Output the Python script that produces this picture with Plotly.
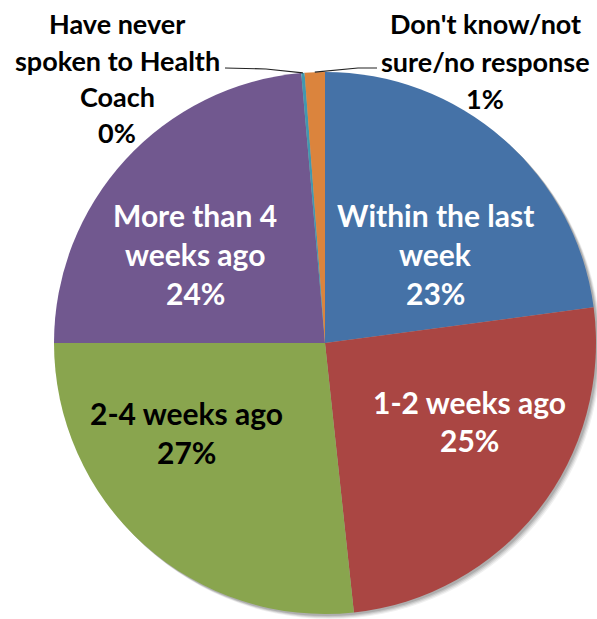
import math
import plotly.graph_objects as go

# Survey: when respondents last spoke to their Health Coach
categories = [
    "Within the last\nweek",
    "1-2 weeks ago",
    "2-4 weeks ago",
    "More than 4\nweeks ago",
    "Have never\nspoken to Health\nCoach",
    "Don't know/not\nsure/no response",
]
shares = [22.9, 25.4, 26.7, 23.6, 0.2, 1.2]
colors = ["#4572A7", "#AA4643", "#89A54E", "#71588F", "#4198AF", "#DB843D"]
text_colors = ["white", "white", "black", "white", "black", "black"]

W, H = 597, 619
CX, CY, R = 325, 343, 271  # pie centre and radius in pixels

def px(x):
    return x / W

def py(y):
    return 1 - y / H

fig = go.Figure()

fig.add_trace(go.Pie(
    labels=[c.replace("\n", " ") for c in categories],
    values=shares,
    marker=dict(colors=colors, line=dict(width=0)),
    sort=False,
    direction="clockwise",
    rotation=0,
    textinfo="none",
    showlegend=False,
    domain=dict(x=[px(CX - R), px(CX + R)], y=[py(CY + R), py(CY - R)]),
))

# soft drop shadow behind the pie
for off, a in [(5, 0.06), (4, 0.08), (3, 0.10), (2, 0.12)]:
    fig.add_shape(type="circle", xref="paper", yref="paper", layer="below",
                  x0=px(CX - R + off), x1=px(CX + R + off),
                  y0=py(CY + R + off), y1=py(CY - R + off),
                  fillcolor=f"rgba(0,0,0,{a})", line=dict(width=0))

total = sum(shares)
pcts = [round(v / total * 100) for v in shares]

# label layout: (centre x, first line y, line spacing, font size)
label_pos = [
    (435, 215, 39, 30),
    (469, 402, 38, 30),
    (186, 413, 39, 30),
    (195, 215, 39, 30),
    (117, 24, 36, 27),
    (485, 24, 37, 27),
]

for cat, pct, col, (cx, y0, dy, fs) in zip(categories, pcts, text_colors, label_pos):
    lines = cat.split("\n") + [f"{pct}%"]
    for i, line in enumerate(lines):
        fig.add_annotation(
            x=px(cx), y=py(y0 + i * dy), xref="paper", yref="paper",
            text=f"<b>{line}</b>", showarrow=False,
            xanchor="center", yanchor="middle",
            font=dict(family="Lato", size=fs, color=col),
        )

# leader lines from the two small slices to their labels
cum = 0
mids = []
for v in shares:
    mids.append((cum + v / 2) / total * 2 * math.pi)
    cum += v

def edge(theta):
    return CX + R * math.sin(theta), CY - R * math.cos(theta)

leaders = [
    (4, [(225, 68), (266, 69)]),
    (5, [(377, 68), (358, 68)]),
]
for idx, pts in leaders:
    ex, ey = edge(mids[idx])
    path_pts = pts + [(ex, ey)]
    d = "M " + " L ".join(f"{px(x)},{py(y)}" for x, y in path_pts)
    fig.add_shape(type="path", path=d, xref="paper", yref="paper",
                  line=dict(color="#222222", width=1.2))

fig.update_layout(
    width=W, height=H,
    margin=dict(l=0, r=0, t=0, b=0),
    paper_bgcolor="white", plot_bgcolor="white",
)

fig.write_html("out.html")
